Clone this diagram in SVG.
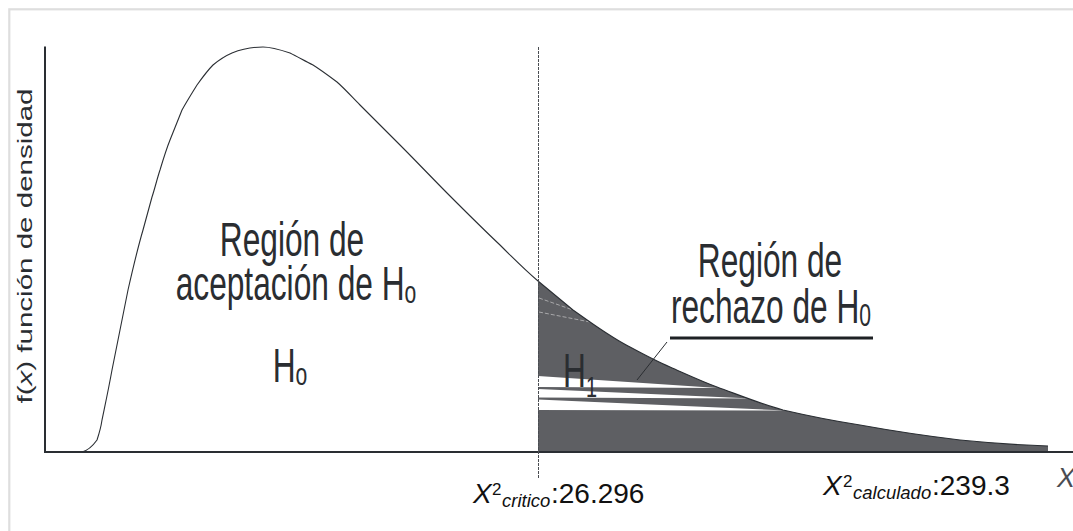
<svg xmlns="http://www.w3.org/2000/svg" width="1073" height="531" viewBox="0 0 1073 531">
<style>
.lbl{font-family:"Liberation Sans",Arial,sans-serif;fill:#2a2d31}
.big{font-size:48px}
.ax{font-family:"Liberation Sans",Arial,sans-serif;fill:#111}
.it{font-style:italic}
</style>
<rect width="1073" height="531" fill="#ffffff"/>
<rect x="9.3" y="9.3" width="1100" height="560" fill="none" stroke="#dedede" stroke-width="2.2"/>

<g id="rejection-area">
<path d="M538,281 C550,291 562,301 573,310 L590,322 C603,331 616,340 630,347 C643,354 656,361 670,367 C686,374 701,381 717,387 C739,395 761,404 783,410 C809,416 834,421 860,425 C893,431 927,436 960,440 C990,443 1020,445 1048,446 L1048,452 L538,452 Z" fill="#5e5f63"/>
<polygon points="538,376 718,388 538,387" fill="#ffffff"/>
<polygon points="538,389 752,398.5 538,397.5" fill="#ffffff"/>
<polygon points="538,399.5 786,410.5 538,410" fill="#ffffff"/>
<line x1="539" y1="298" x2="573" y2="310" stroke="#a8a8aa" stroke-width="1" stroke-dasharray="4,2"/>
<line x1="539" y1="312" x2="590" y2="322" stroke="#a8a8aa" stroke-width="1" stroke-dasharray="4,2"/>
</g>

<g id="axes" fill="none" stroke="#2a2e33" stroke-width="2">
<line x1="45" y1="46.5" x2="45" y2="453"/>
<line x1="44" y1="452" x2="1073" y2="452"/>
</g>

<g id="curve">
<path d="M82,452 C86,451 92,447 97,440 C99,434 101,427 102,420 C104,410 108,392 112,370 C116,350 121,325 128,290 C133,268 138,247 143,230 C146,219 149,208 152,197 C155,188 157,179 160,170 C163,160 166,150 170,140 C174,130 178,120 182,110 C187,101 192,93 197,85 C202,78 207,71 213,65 C219,60 225,56 232,53 C242,49 252,47 263,47 C272,47 281,50 290,53 C298,57 305,61 313,65 C321,70 329,76 337,82 C345,89 352,97 360,105 C373,118 387,132 400,145 C417,162 433,179 450,196 C467,213 483,229 500,245 C513,258 525,270 538,281 C550,291 562,301 573,310 L590,322 C603,331 616,340 630,347 C643,354 656,361 670,367 C686,374 701,381 717,387 C739,395 761,404 783,410 C809,416 834,421 860,425 C893,431 927,436 960,440 C990,443 1020,445 1048,446" fill="none" stroke="#2a2e33" stroke-width="1.1"/>
</g>

<g id="critical-line">
<line x1="538.5" y1="47" x2="538.5" y2="478" stroke="#4a4d52" stroke-width="1" stroke-dasharray="3,1"/>
</g>

<g id="connectors">
<line x1="667" y1="342" x2="637" y2="380" stroke="#2a2d31" stroke-width="1"/>
</g>

<g id="y-label">
<text class="lbl" font-size="20" transform="translate(32,246) rotate(-90)" text-anchor="middle" textLength="315" lengthAdjust="spacingAndGlyphs">f(<tspan class="it">x</tspan>) función de densidad</text>
</g>

<g id="acceptance-label">
<text class="lbl big" text-anchor="middle" transform="translate(292,256) scale(0.66,1)">Región de</text>
<text class="lbl big" text-anchor="middle" transform="translate(296,300) scale(0.66,1)">aceptación de H<tspan font-size="32" dy="3">o</tspan></text>
<text class="lbl big" text-anchor="middle" transform="translate(290,382) scale(0.66,1)">H<tspan font-size="32" dy="3">o</tspan></text>
</g>

<g id="rejection-label">
<text class="lbl big" text-anchor="middle" transform="translate(770,277) scale(0.66,1)">Región de</text>
<text class="lbl big" text-anchor="middle" transform="translate(771,323) scale(0.66,1)">rechazo de H<tspan font-size="32" dy="3">0</tspan></text>
<line x1="670" y1="338" x2="873" y2="338" stroke="#1e2124" stroke-width="3"/>
</g>

<g id="h1-label">
<text class="lbl" font-size="48" transform="translate(563,387) scale(0.66,1)">H<tspan font-size="30" dy="10">1</tspan></text>
</g>

<g id="critical-label">
<text class="ax" font-size="28"><tspan class="it" x="473" y="503">X</tspan><tspan font-size="17" x="492" y="495">2</tspan><tspan class="it" font-size="18.5" x="502" y="507">critico</tspan><tspan x="551" y="503">:26.296</tspan></text>
</g>

<g id="calculated-label">
<text class="ax" font-size="28"><tspan class="it" x="823" y="495">X</tspan><tspan font-size="17" x="843" y="487">2</tspan><tspan class="it" font-size="18.5" x="853" y="499">calculado</tspan><tspan x="932" y="495">:239.3</tspan></text>
</g>

<g id="x-axis-label">
<text class="ax it" font-size="27" x="1057" y="487" style="fill:#4a4d52">X</text>
</g>
</svg>
